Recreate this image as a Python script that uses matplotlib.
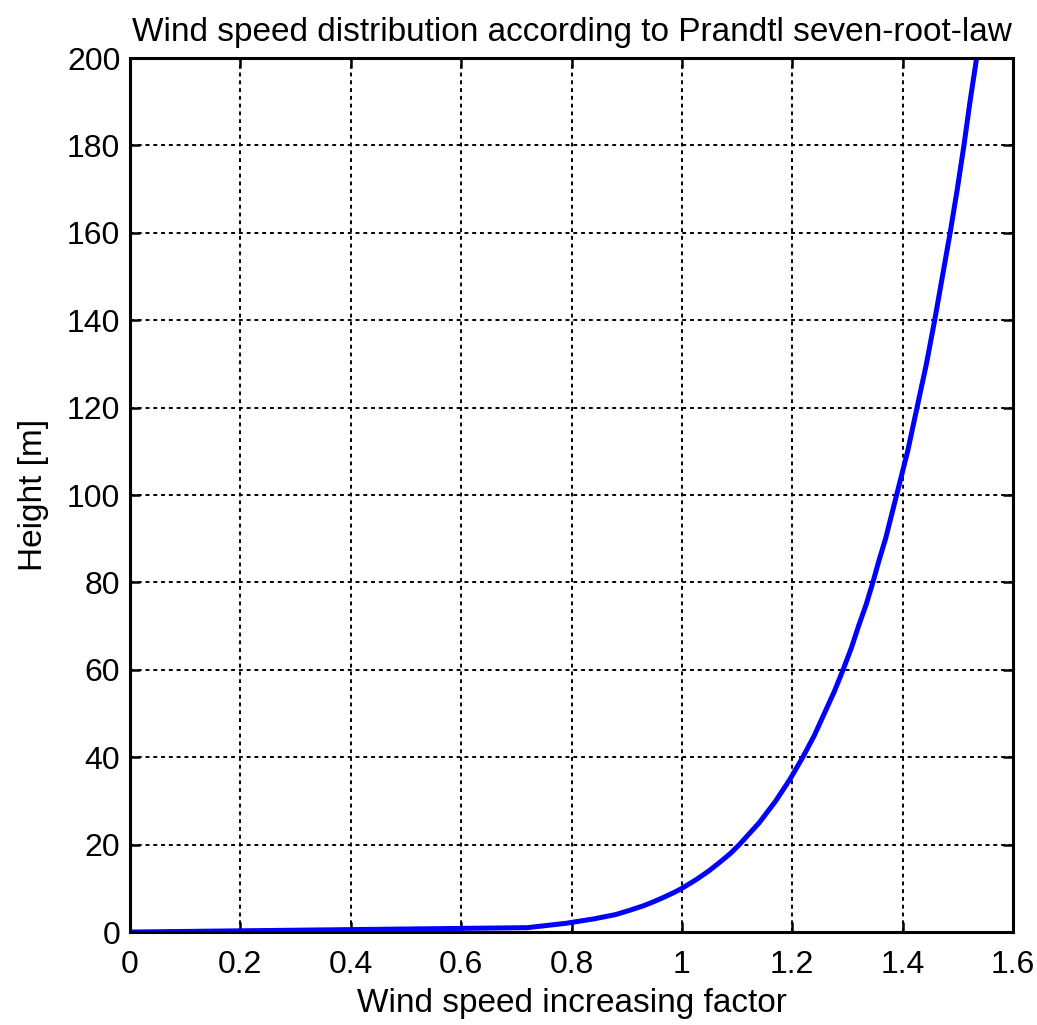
import matplotlib
matplotlib.use('Agg')
import matplotlib.pyplot as plt

# heights [m] and wind speed factor
height = [0, 1, 2, 3, 4, 5, 6, 7, 8, 9, 10, 12, 14, 16, 18, 20, 25, 30,
          35, 40, 45, 50, 55, 60, 65, 70, 75, 80, 85, 90, 95, 100, 110,
          120, 130, 140, 150, 160, 170, 180, 190, 200]
factor = [0, 0.72, 0.79, 0.84, 0.88, 0.906, 0.93, 0.95, 0.968, 0.985,
          1.0, 1.026, 1.049, 1.069, 1.088, 1.104, 1.14, 1.17, 1.196,
          1.219, 1.24, 1.258, 1.276, 1.292, 1.307, 1.32, 1.334, 1.346,
          1.357, 1.369, 1.379, 1.389, 1.409, 1.426, 1.443, 1.458, 1.472,
          1.486, 1.499, 1.511, 1.522, 1.534]

xticks = [0, 0.2, 0.4, 0.6, 0.8, 1, 1.2, 1.4, 1.6]
xticklabels = ['0', '0.2', '0.4', '0.6', '0.8', '1', '1.2', '1.4', '1.6']
yticks = list(range(0, 201, 20))

plt.rcParams['font.family'] = ['Liberation Sans', 'DejaVu Sans']

fig = plt.figure(figsize=(10.37, 10.25), dpi=100)
ax = fig.add_axes([0.1254, 0.0907, 0.8515, 0.8527])

ax.plot(factor, height, color='#0000ff', linewidth=3.6)

ax.set_xlim(0, 1.6)
ax.set_ylim(0, 200)
ax.set_xticks(xticks)
ax.set_xticklabels(xticklabels)
ax.set_yticks(yticks)

ax.grid(True, color='black', linestyle=(0, (2, 2)), linewidth=1.4)
for s in ax.spines.values():
    s.set_linewidth(2.2)
ax.tick_params(axis='both', direction='in', length=7, width=1.8,
               labelsize=23, top=True, right=True)
ax.tick_params(axis='x', pad=13)
ax.tick_params(axis='y', pad=7)

ax.set_title('Wind speed distribution according to Prandtl seven-root-law',
             fontsize=24, pad=12)
ax.set_xlabel('Wind speed increasing factor', fontsize=24, labelpad=6)
ax.set_ylabel('Height [m]', fontsize=24, labelpad=13)

fig.savefig('out.png', dpi=100)
